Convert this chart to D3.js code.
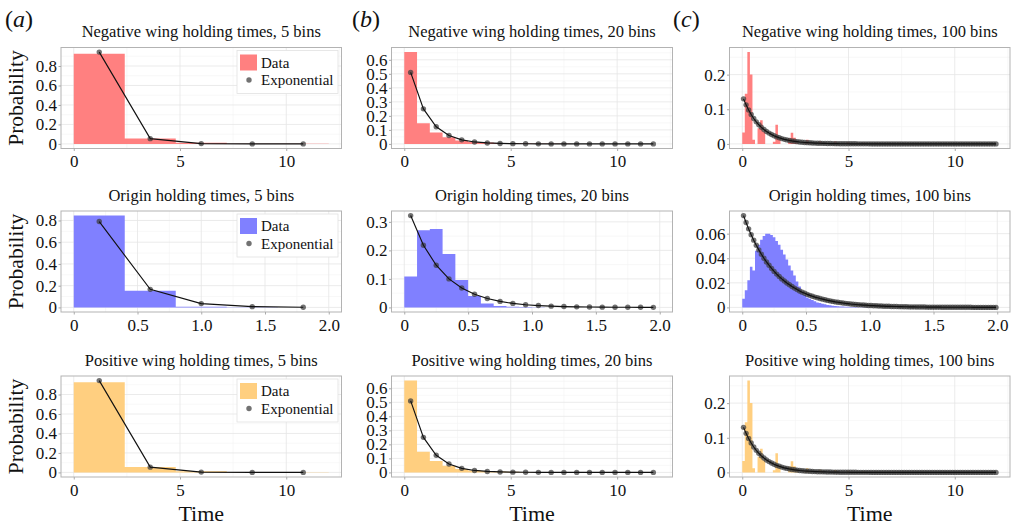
<!DOCTYPE html>
<html>
<head>
<meta charset="utf-8">
<script src="https://cdn.jsdelivr.net/npm/d3@7"></script>
<style>
  body { margin: 0; background: #fff; }
  text { font-family: "Liberation Serif", "DejaVu Serif", serif; fill: #111; }
</style>
</head>
<body>
<div id="chart"></div>
<script>
// holding time histograms
var wingMax = 12
var originMax = 2

var negBars5 = [0.925, 0.055, 0.012, 0.002, 0.001]
var negExp5 = [0.943, 0.054, 0.003, 0.0002, 0.00001]

var negBars20 = [0.655, 0.148, 0.081, 0.048, 0.024, 0.014, 0.010, 0.007, 0.005, 0.003,
  0.002, 0.001, 0.001, 0, 0, 0, 0, 0, 0, 0]
var negExp20 = [0.510, 0.250, 0.122, 0.060, 0.029, 0.014, 0.0070, 0.0034, 0.0017, 0.0008,
  0.0004, 0.0002, 0.0001, 0.00005, 0, 0, 0, 0, 0, 0]

var negBars100 = [
  0.033, 0.145, 0.265, 0.200, 0.012, 0, 0.045, 0.068, 0.035, 0,
  0, 0, 0.006, 0.055, 0.020, 0, 0, 0, 0.016, 0.032,
  0.018, 0.004, 0, 0, 0.002, 0.012, 0.004, 0, 0, 0,
  0.008, 0.003, 0, 0, 0, 0, 0.007, 0.001, 0, 0,
  0, 0.005, 0.001, 0, 0, 0, 0, 0.003, 0, 0,
  0, 0, 0.002, 0, 0, 0, 0, 0, 0.001, 0,
  0, 0, 0, 0.001, 0, 0, 0, 0, 0, 0,
  0, 0, 0, 0, 0, 0, 0, 0, 0, 0,
  0, 0, 0, 0, 0, 0, 0, 0, 0, 0,
  0, 0, 0, 0, 0, 0, 0, 0, 0, 0]
var negExp100 = [
  0.1300, 0.1127, 0.0977, 0.0847, 0.0734, 0.0637, 0.0552, 0.0479, 0.0415, 0.0360,
  0.0312, 0.0270, 0.0234, 0.0203, 0.0176, 0.0153, 0.0132, 0.0115, 0.0100, 0.0086,
  0.0075, 0.0065, 0.0056, 0.0049, 0.0042, 0.0037, 0.0032, 0.0028, 0.0024, 0.0021,
  0.0018, 0.0016, 0.0014, 0.0012, 0.0010, 0.0009, 0.0008, 0.0007, 0.0006, 0.0005,
  0.0005, 0.0004, 0.0003, 0.0003, 0.0003, 0.0002, 0.0002, 0.0002, 0.0001, 0.0001,
  0, 0, 0, 0, 0, 0, 0, 0, 0, 0,
  0, 0, 0, 0, 0, 0, 0, 0, 0, 0,
  0, 0, 0, 0, 0, 0, 0, 0, 0, 0,
  0, 0, 0, 0, 0, 0, 0, 0, 0, 0,
  0, 0, 0, 0, 0, 0, 0, 0, 0, 0]

var originBars5 = [0.845, 0.153, 0.006, 0.001, 0]
var originExp5 = [0.790, 0.166, 0.035, 0.007, 0.0015]

var originBars20 = [0.108, 0.271, 0.275, 0.187, 0.096, 0.040, 0.014, 0.005, 0.002, 0.001,
  0.0005, 0, 0, 0, 0, 0, 0, 0, 0, 0]
var originExp20 = [0.322, 0.218, 0.148, 0.100, 0.068, 0.046, 0.031, 0.021, 0.014, 0.0095,
  0.0065, 0.0044, 0.0030, 0.0020, 0.0014, 0.0009, 0.0006, 0.0004, 0.0003, 0.0002]

var originBars100 = [
  0.007, 0.014, 0.022, 0.033, 0.030, 0.046, 0.051, 0.055, 0.058, 0.060,
  0.060, 0.059, 0.057, 0.054, 0.051, 0.047, 0.043, 0.039, 0.034, 0.030,
  0.026, 0.021, 0.017, 0.013, 0.010, 0.008, 0.007, 0.006, 0.005, 0.004,
  0.0035, 0.003, 0.0025, 0.002, 0.0017, 0.0014, 0.0012, 0.0010, 0.0008, 0.0007,
  0.0006, 0.0005, 0.0004, 0.0003, 0.0003, 0.0002, 0.0002, 0.0002, 0.0001, 0.0001,
  0, 0, 0, 0, 0, 0, 0, 0, 0, 0,
  0, 0, 0, 0, 0, 0, 0, 0, 0, 0,
  0, 0, 0, 0, 0, 0, 0, 0, 0, 0,
  0, 0, 0, 0, 0, 0, 0, 0, 0, 0,
  0, 0, 0, 0, 0, 0, 0, 0, 0, 0]
var originExp100 = [
  0.0747, 0.0691, 0.0639, 0.0591, 0.0547, 0.0506, 0.0468, 0.0433, 0.0400, 0.0370,
  0.0343, 0.0317, 0.0293, 0.0271, 0.0251, 0.0232, 0.0215, 0.0199, 0.0184, 0.0170,
  0.0157, 0.0145, 0.0134, 0.0124, 0.0115, 0.0106, 0.0098, 0.0091, 0.0084, 0.0078,
  0.0072, 0.0067, 0.0062, 0.0057, 0.0053, 0.0049, 0.0045, 0.0042, 0.0039, 0.0036,
  0.0033, 0.0031, 0.0028, 0.0026, 0.0024, 0.0022, 0.0021, 0.0019, 0.0018, 0.0016,
  0.0015, 0.0014, 0.0013, 0.0012, 0.0011, 0.0010, 0.0009, 0.0009, 0.0008, 0.0007,
  0.0007, 0.0006, 0.0006, 0.0005, 0.0005, 0.0004, 0.0004, 0.0004, 0.0003, 0.0003,
  0.0003, 0.0003, 0.0002, 0.0002, 0.0002, 0.0002, 0.0002, 0.0002, 0.0001, 0.0001,
  0.0001, 0.0001, 0.0001, 0.0001, 0.0001, 0.0001, 0.0001, 0.0001, 0.0001, 0.0001,
  0, 0, 0, 0, 0, 0, 0, 0, 0, 0]

// positive wing reads the same as the negative wing in the figure
var posBars5 = negBars5
var posExp5 = negExp5
var posBars20 = negBars20
var posExp20 = negExp20
var posBars100 = negBars100
var posExp100 = negExp100

var wingXTicks = [0, 5, 10]
var wingXLabels = ['0', '5', '10']
var originXTicks = [0, 0.5, 1, 1.5, 2]
var originXLabels = ['0', '0.5', '1.0', '1.5', '2.0']

var yTicks5 = [0, 0.2, 0.4, 0.6, 0.8]
var yTicksWing20 = [0, 0.1, 0.2, 0.3, 0.4, 0.5, 0.6]
var yTicksWing100 = [0, 0.1, 0.2]
var yTicksOrigin20 = [0, 0.1, 0.2, 0.3]
var yTicksOrigin100 = [0, 0.02, 0.04, 0.06]

var red = '#ff8080'
var blue = '#8080ff'
var orange = '#ffcf80'

var panels = [
  { row: 0, col: 0, title: 'Negative wing holding times, 5 bins', tmax: wingMax, bars: negBars5, exp: negExp5, color: red, yt: yTicks5, xt: wingXTicks, xl: wingXLabels },
  { row: 0, col: 1, title: 'Negative wing holding times, 20 bins', tmax: wingMax, bars: negBars20, exp: negExp20, color: red, yt: yTicksWing20, xt: wingXTicks, xl: wingXLabels },
  { row: 0, col: 2, title: 'Negative wing holding times, 100 bins', tmax: wingMax, bars: negBars100, exp: negExp100, color: red, yt: yTicksWing100, xt: wingXTicks, xl: wingXLabels },
  { row: 1, col: 0, title: 'Origin holding times, 5 bins', tmax: originMax, bars: originBars5, exp: originExp5, color: blue, yt: yTicks5, xt: originXTicks, xl: originXLabels },
  { row: 1, col: 1, title: 'Origin holding times, 20 bins', tmax: originMax, bars: originBars20, exp: originExp20, color: blue, yt: yTicksOrigin20, xt: originXTicks, xl: originXLabels },
  { row: 1, col: 2, title: 'Origin holding times, 100 bins', tmax: originMax, bars: originBars100, exp: originExp100, color: blue, yt: yTicksOrigin100, xt: originXTicks, xl: originXLabels },
  { row: 2, col: 0, title: 'Positive wing holding times, 5 bins', tmax: wingMax, bars: posBars5, exp: posExp5, color: orange, yt: yTicks5, xt: wingXTicks, xl: wingXLabels },
  { row: 2, col: 1, title: 'Positive wing holding times, 20 bins', tmax: wingMax, bars: posBars20, exp: posExp20, color: orange, yt: yTicksWing20, xt: wingXTicks, xl: wingXLabels },
  { row: 2, col: 2, title: 'Positive wing holding times, 100 bins', tmax: wingMax, bars: posBars100, exp: posExp100, color: orange, yt: yTicksWing100, xt: wingXTicks, xl: wingXLabels }
]

// layout
var colX = [[61, 341.5], [391.5, 672.5], [729.5, 1010]]
var rowY = [[47.5, 148.5], [211, 312], [376, 477]]
var panelLetters = [{ t: 'a', x: 5 }, { t: 'b', x: 352 }, { t: 'c', x: 673 }]

var svg = d3.select('#chart')
  .append('svg')
  .attr('width', 1013)
  .attr('height', 528)

// minor grid: halfway between majors, inside the domain
function minors (ticks, domain) {
  var out = []
  var step = ticks[1] - ticks[0]
  for (var i = 0; i < ticks.length; i++) {
    var m = ticks[i] + step / 2
    if (m < domain[1]) out.push(m)
  }
  return out
}

panels.forEach(function (p) {
  var x0 = colX[p.col][0], x1 = colX[p.col][1]
  var y0 = rowY[p.row][0], y1 = rowY[p.row][1]
  var n = p.bars.length
  var w = p.tmax / n

  var xScale = d3.scaleLinear().domain([-0.05 * p.tmax, 1.05 * p.tmax]).range([x0, x1])
  var ymax = d3.max(p.bars.concat(p.exp))
  var yScale = d3.scaleLinear().domain([-0.05 * ymax, 1.05 * ymax]).range([y1, y0])

  var g = svg.append('g')

  // grid
  minors(p.xt, xScale.domain()).forEach(function (v) {
    g.append('line').attr('x1', xScale(v)).attr('x2', xScale(v)).attr('y1', y0).attr('y2', y1)
      .attr('stroke', '#f4f4f4').attr('stroke-width', 0.6)
  })
  minors(p.yt, yScale.domain()).forEach(function (v) {
    g.append('line').attr('x1', x0).attr('x2', x1).attr('y1', yScale(v)).attr('y2', yScale(v))
      .attr('stroke', '#f4f4f4').attr('stroke-width', 0.6)
  })
  p.xt.forEach(function (v) {
    g.append('line').attr('x1', xScale(v)).attr('x2', xScale(v)).attr('y1', y0).attr('y2', y1)
      .attr('stroke', '#e6e6e6').attr('stroke-width', 0.8)
  })
  p.yt.forEach(function (v) {
    g.append('line').attr('x1', x0).attr('x2', x1).attr('y1', yScale(v)).attr('y2', yScale(v))
      .attr('stroke', '#e6e6e6').attr('stroke-width', 0.8)
  })

  // histogram: one stepped area per panel so adjacent bins have no seams
  var steps = []
  p.bars.forEach(function (v, i) {
    steps.push({ t: i * w, v: v })
    steps.push({ t: (i + 1) * w, v: v })
  })
  var area = d3.area()
    .x(function (d) { return xScale(d.t) })
    .y0(yScale(0))
    .y1(function (d) { return yScale(d.v) })
  g.append('path')
    .datum(steps)
    .attr('d', area)
    .attr('fill', p.color)

  // exponential fit
  g.selectAll('circle.pt')
    .data(p.exp)
    .enter()
    .append('circle')
    .attr('class', 'pt')
    .attr('cx', function (d, i) { return xScale((i + 0.5) * w) })
    .attr('cy', function (d) { return yScale(d) })
    .attr('r', 2.7)
    .attr('fill', '#3c3c3c')
    .attr('fill-opacity', 0.72)

  var line = d3.line()
    .x(function (d, i) { return xScale((i + 0.5) * w) })
    .y(function (d) { return yScale(d) })
  g.append('path')
    .datum(p.exp)
    .attr('d', line)
    .attr('fill', 'none')
    .attr('stroke', '#111')
    .attr('stroke-width', 1.15)

  // panel border
  g.append('rect')
    .attr('x', x0).attr('y', y0)
    .attr('width', x1 - x0).attr('height', y1 - y0)
    .attr('fill', 'none')
    .attr('stroke', '#b3b3b3')
    .attr('stroke-width', 1)

  // axes
  var xAxis = d3.axisBottom(xScale)
    .tickValues(p.xt)
    .tickFormat(function (d, i) { return p.xl[i] })
    .tickSize(2.5)
    .tickPadding(4)
  var xg = g.append('g')
    .attr('transform', 'translate(0,' + y1 + ')')
    .call(xAxis)
  var yAxis = d3.axisLeft(yScale)
    .tickValues(p.yt)
    .tickFormat(function (d) { return String(d) })
    .tickSize(2.5)
    .tickPadding(1.5)
  var yg = g.append('g')
    .attr('transform', 'translate(' + x0 + ',0)')
    .call(yAxis);
  [xg, yg].forEach(function (a) {
    a.select('.domain').remove()
    a.selectAll('.tick line').attr('stroke', '#aaa')
    a.selectAll('.tick text')
      .style('font-family', '"Liberation Serif", "DejaVu Serif", serif')
      .style('font-size', '17px')
      .attr('fill', '#111')
  })

  // title
  g.append('text')
    .attr('x', (x0 + x1) / 2)
    .attr('y', y0 - 10.5)
    .attr('text-anchor', 'middle')
    .style('font-size', '16.5px')
    .text(p.title)

  if (p.col === 0) {
    g.append('text')
      .attr('transform', 'translate(23,' + (y0 + y1) / 2 + ') rotate(-90)')
      .attr('text-anchor', 'middle')
      .style('font-size', '21.5px')
      .text('Probability')

    // legend
    var lx = 237, ly = y0 + 3
    g.append('rect').attr('x', lx).attr('y', ly).attr('width', 101).attr('height', 43)
      .attr('fill', '#fff').attr('stroke', '#e2e2e2').attr('stroke-width', 0.8)
    g.append('rect').attr('x', lx + 3).attr('y', ly + 4).attr('width', 17).attr('height', 16)
      .attr('fill', p.color)
    g.append('circle').attr('cx', lx + 12).attr('cy', ly + 29.5).attr('r', 2.7)
      .attr('fill', '#3c3c3c').attr('fill-opacity', 0.72)
    g.append('text').attr('x', lx + 24).attr('y', ly + 17).style('font-size', '15px').text('Data')
    g.append('text').attr('x', lx + 24).attr('y', ly + 34.5).style('font-size', '15px').text('Exponential')
  }

  if (p.row === 2) {
    g.append('text')
      .attr('x', (x0 + x1) / 2)
      .attr('y', 521)
      .attr('text-anchor', 'middle')
      .style('font-size', '22px')
      .text('Time')
  }
})

// panel letters
panelLetters.forEach(function (l) {
  var t = svg.append('text').attr('x', l.x).attr('y', 27).style('font-size', '24px')
  t.append('tspan').text('(')
  t.append('tspan').style('font-style', 'italic').text(l.t)
  t.append('tspan').text(')')
})
</script>
</body>
</html>
